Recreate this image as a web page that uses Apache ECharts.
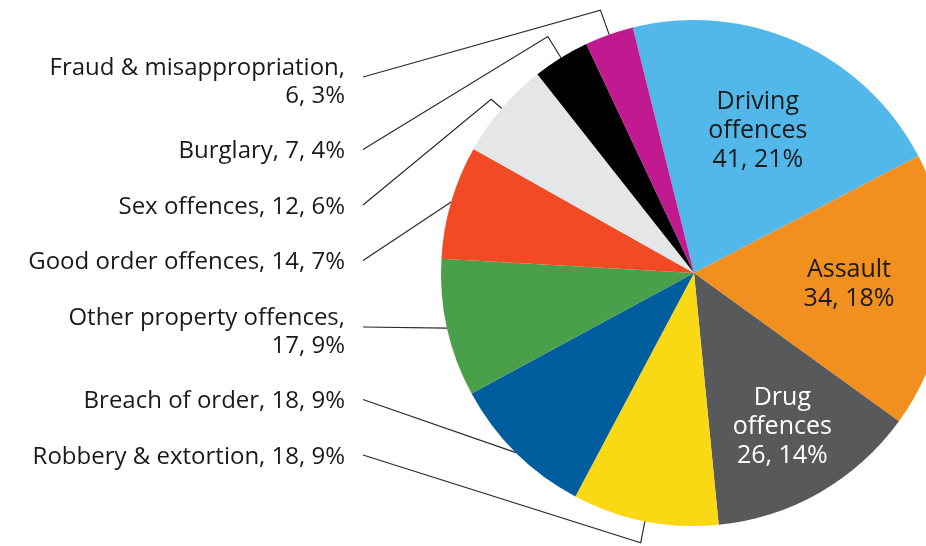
<!DOCTYPE html>
<html>
<head>
<meta charset="utf-8">
<script src="https://cdn.jsdelivr.net/npm/echarts@6/dist/echarts.min.js"></script>
<style>
  html, body { margin: 0; padding: 0; background: #ffffff; }
  #chart { width: 926px; height: 546px; }
</style>
</head>
<body>
<div id="chart"></div>
<script>
// Offence categories, counts and their stated shares (clockwise from the top)
const categories = [
  'Driving offences', 'Assault', 'Drug offences', 'Robbery & extortion',
  'Breach of order', 'Other property offences', 'Good order offences',
  'Sex offences', 'Burglary', 'Fraud & misappropriation'
];
const counts = [41, 34, 26, 18, 18, 17, 14, 12, 7, 6];
const percents = [21, 18, 14, 9, 9, 9, 7, 6, 4, 3];

// Slice colours
const colors = [
  '#52b8e9', '#f18f1f', '#58595b', '#f9d814', '#005e9e',
  '#4a9f4a', '#f14a24', '#e5e6e7', '#000000', '#c1198f'
];

// Categories labelled inside their slice
const insideSet = ['Driving offences', 'Assault', 'Drug offences'];
// Outside labels that wrap after the name
const wrapSet = ['Fraud & misappropriation', 'Other property offences'];

// ---- layout / style ----
const CX = 694, CY = 273, R = 253;
const FONT = '"Open Sans", Lato, sans-serif';
const FONT_SIZE = 24;
const INSIDE_FONT_SIZE = 25;
const LINE_H = 28;
const INSIDE_LINE_H = 29;
const LABEL_RIGHT = 345;     // right edge of the left-hand label column
const LINE_END_X = 363;      // where leader lines meet the label column
const COLUMN_TOP = 54;
const COLUMN_GAP = 27.5;
// radial stub length of each leader before it bends toward its label
const stubLen = {
  'Fraud & misappropriation': 26, 'Burglary': 25, 'Sex offences': 14,
  'Good order offences': 0, 'Other property offences': 0,
  'Breach of order': 0, 'Robbery & extortion': 22
};
// how far out inside labels sit, relative to the half-radius default
const insideScale = { 'Driving offences': 1.2, 'Assault': 1.2, 'Drug offences': 1.37 };

// Left column ordering (top to bottom) and vertical centres
const columnOrder = categories.filter(c => insideSet.indexOf(c) < 0).reverse();
const columnY = {};
(function () {
  let top = COLUMN_TOP;
  columnOrder.forEach(name => {
    const lines = wrapSet.indexOf(name) >= 0 ? 2 : 1;
    const h = lines * LINE_H;
    columnY[name] = top + h / 2;
    top += h + COLUMN_GAP;
  });
})();

function labelText(i) {
  const name = categories[i];
  const tail = counts[i] + ', ' + percents[i] + '%';
  if (insideSet.indexOf(name) >= 0) {
    return name.split(' ').join('\n') + '\n' + tail;
  }
  return name + (wrapSet.indexOf(name) >= 0 ? ',\n' : ', ') + tail;
}

const seriesData = categories.map((name, i) => {
  const inside = insideSet.indexOf(name) >= 0;
  return {
    name: name,
    value: counts[i],
    itemStyle: { color: colors[i] },
    label: inside
      ? {
          position: 'inside', align: 'center',
          fontSize: INSIDE_FONT_SIZE, lineHeight: INSIDE_LINE_H,
          color: name === 'Drug offences' ? '#ffffff' : '#1a1a1a'
        }
      : { position: 'outside', align: 'right' },
    labelLine: { show: !inside }
  };
});

function placeLabel(params) {
  const name = categories[params.dataIndex];
  const lr = params.labelRect;
  if (insideSet.indexOf(name) >= 0) {
    const mx = lr.x + lr.width / 2, my = lr.y + lr.height / 2;
    const k = insideScale[name];
    return {
      x: CX + (mx - CX) * k,
      y: CY + (my - CY) * k,
      align: 'center',
      verticalAlign: 'middle'
    };
  }
  const yc = columnY[name];
  const pts = params.labelLinePoints;
  const out = {
    x: LABEL_RIGHT,
    y: yc,
    align: 'right',
    verticalAlign: 'middle'
  };
  if (pts && pts.length) {
    const edge = pts[0];
    const dx = edge[0] - CX, dy = edge[1] - CY;
    const d = Math.sqrt(dx * dx + dy * dy) || 1;
    const s = stubLen[name];
    const end = [LINE_END_X, yc - (wrapSet.indexOf(name) >= 0 ? 5 : 2)];
    out.labelLinePoints = s > 0
      ? [edge, [edge[0] + dx / d * s, edge[1] + dy / d * s], end]
      : [edge, edge, end];
  }
  return out;
}

const chart = echarts.init(document.getElementById('chart'), null, { renderer: 'canvas' });
chart.setOption({
  animation: false,
  backgroundColor: '#ffffff',
  series: [{
    type: 'pie',
    center: [CX, CY],
    radius: [0, R],
    startAngle: 104,
    clockwise: true,
    avoidLabelOverlap: false,
    data: seriesData,
    label: {
      formatter: p => labelText(p.dataIndex),
      fontFamily: FONT,
      fontSize: FONT_SIZE,
      lineHeight: LINE_H,
      color: '#1a1a1a',
      overflow: 'none'
    },
    labelLine: {
      length: 20,
      length2: 20,
      lineStyle: { color: '#2a2a2a', width: 1.2 }
    },
    labelLayout: placeLabel,
    emphasis: { disabled: true }
  }]
});
</script>
</body>
</html>
